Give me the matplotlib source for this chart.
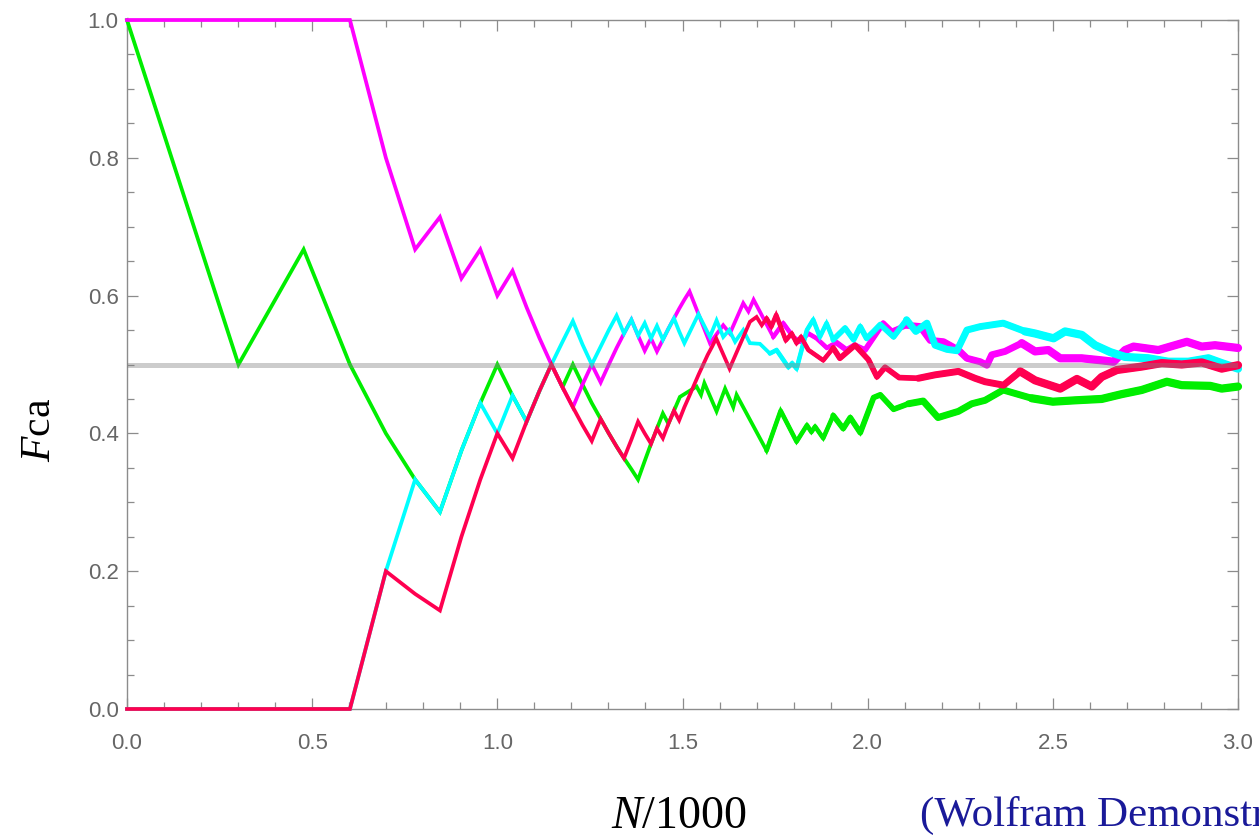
"""
plot.py
Running fraction Fca against log-scaled sample count, four runs.
"""

import matplotlib
matplotlib.use('Agg')
import matplotlib.pyplot as plt
from matplotlib.ticker import MultipleLocator, FormatStrFormatter

plt.rcParams['mathtext.fontset'] = 'custom'
plt.rcParams['mathtext.rm'] = 'Liberation Serif'
plt.rcParams['mathtext.it'] = 'Liberation Serif:italic'

# x positions of the first 30 samples (shared by all four runs)
x_early = [0.0, 0.301, 0.477, 0.602, 0.699, 0.778, 0.845, 0.903, 0.954, 1.0,
           1.041, 1.079, 1.114, 1.146, 1.176, 1.204, 1.230, 1.255, 1.279, 1.301,
           1.322, 1.342, 1.362, 1.380, 1.398, 1.415, 1.431, 1.447, 1.462, 1.477]

# green run
green_early = [1.0, .5, .667, .5, .4, .333, .286, .375, .444, .5,
               .455, .417, .462, .5, .467, .5, .471, .444, .421, .4,
               .381, .364, .348, .333, .36, .385, .407, .429, .414, .433]
green_x_late = [1.493, 1.538, 1.55, 1.559, 1.592, 1.615, 1.637, 1.646, 1.727, 1.765,
                1.808, 1.836, 1.848, 1.858, 1.88, 1.907, 1.934, 1.953, 1.98, 2.016,
                2.034, 2.07, 2.11, 2.15, 2.19, 2.245, 2.281, 2.317, 2.366, 2.398,
                2.443, 2.5, 2.56, 2.632, 2.686, 2.74, 2.808, 2.848, 2.925, 2.956, 3.0]
green_y_late = [.453, .468, .456, .473, .432, .465, .438, .456, .375, .433,
                .388, .412, .402, .41, .393, .426, .407, .423, .401, .452,
                .456, .435, .443, .447, .423, .432, .443, .448, .463, .458,
                .451, .446, .448, .450, .457, .463, .475, .470, .469, .465, .468]

# magenta run
magenta_early = [1.0, 1.0, 1.0, 1.0, .8, .667, .714, .625, .667, .6,
                 .636, .583, .538, .5, .467, .438, .471, .5, .474, .5,
                 .524, .545, .565, .542, .52, .538, .519, .536, .552, .567]
magenta_x_late = [1.491, 1.505, 1.519, 1.574, 1.61, 1.628, 1.664, 1.678, 1.692, 1.745,
                  1.772, 1.799, 1.817, 1.84, 1.862, 1.89, 1.915, 1.943, 1.965, 1.993,
                  2.042, 2.065, 2.105, 2.142, 2.169, 2.205, 2.245, 2.268, 2.304, 2.322,
                  2.335, 2.371, 2.416, 2.452, 2.488, 2.52, 2.578, 2.632, 2.664, 2.695,
                  2.718, 2.785, 2.862, 2.902, 2.938, 3.0]
magenta_y_late = [.581, .594, .606, .531, .557, .545, .589, .577, .594, .54,
                  .56, .54, .533, .545, .538, .524, .532, .521, .528, .521,
                  .56, .548, .557, .555, .535, .533, .521, .509, .504, .499,
                  .514, .519, .531, .519, .521, .509, .509, .506, .504, .521,
                  .526, .521, .533, .526, .528, .524]

# cyan run
cyan_early = [0.0, 0.0, 0.0, 0.0, .2, .333, .286, .375, .444, .4,
              .455, .417, .462, .5, .533, .563, .529, .5, .526, .55,
              .571, .545, .565, .542, .56, .538, .556, .536, .552, .567]
cyan_x_late = [1.491, 1.505, 1.543, 1.574, 1.592, 1.61, 1.626, 1.642, 1.664, 1.682,
               1.709, 1.736, 1.754, 1.786, 1.796, 1.808, 1.836, 1.853, 1.871, 1.889,
               1.907, 1.939, 1.962, 1.98, 1.997, 2.016, 2.034, 2.07, 2.105, 2.13,
               2.16, 2.182, 2.214, 2.241, 2.268, 2.304, 2.366, 2.425, 2.452, 2.502,
               2.533, 2.578, 2.614, 2.655, 2.695, 2.758, 2.812, 2.866, 2.92, 2.956, 3.0]
cyan_y_late = [.548, .531, .573, .54, .564, .54, .55, .533, .55, .531,
               .53, .516, .521, .496, .502, .494, .55, .565, .54, .56,
               .536, .553, .536, .555, .538, .548, .558, .54, .565, .548,
               .56, .528, .522, .52, .55, .555, .56, .548, .545, .538,
               .548, .543, .528, .518, .511, .509, .504, .504, .509, .502, .494]

# red run
red_early = [0.0, 0.0, 0.0, 0.0, .2, .167, .143, .25, .333, .4,
             .364, .417, .462, .5, .467, .438, .412, .389, .421, .4,
             .381, .364, .391, .417, .4, .385, .407, .393, .414, .433]
red_x_late = [1.491, 1.505, 1.519, 1.531, 1.544, 1.556, 1.568, 1.58, 1.591, 1.627,
              1.682, 1.7, 1.714, 1.727, 1.74, 1.753, 1.779, 1.795, 1.808, 1.82,
              1.84, 1.88, 1.907, 1.925, 1.966, 2.002, 2.025, 2.047, 2.085, 2.137,
              2.182, 2.245, 2.29, 2.317, 2.367, 2.412, 2.452, 2.52, 2.565, 2.605,
              2.632, 2.673, 2.74, 2.794, 2.848, 2.902, 2.956, 3.0]
red_y_late = [.419, .438, .455, .47, .486, .5, .514, .526, .538, .494,
              .562, .569, .557, .567, .555, .572, .535, .545, .531, .54,
              .521, .506, .524, .509, .528, .507, .482, .496, .481, .48,
              .485, .49, .48, .475, .47, .49, .477, .465, .479, .468,
              .482, .492, .497, .502, .5, .503, .494, .499]

x_ticks = [0.0, 0.5, 1.0, 1.5, 2.0, 2.5, 3.0]
y_ticks = [0.0, 0.2, 0.4, 0.6, 0.8, 1.0]

# the traces get fuzzier (denser zigzag) further right -> draw them thicker there
width_steps = [(1.72, 3.3), (1.9, 4.1), (2.1, 5.0), (2.4, 5.9)]


def plot_run(ax, xs, ys, color, z):
    ax.plot(xs, ys, color=color, lw=2.7, zorder=z, clip_on=False,
            solid_joinstyle='miter')
    for x_start, lw in width_steps:
        sel = [(x, y) for x, y in zip(xs, ys) if x >= x_start]
        ax.plot([p[0] for p in sel], [p[1] for p in sel], color=color, lw=lw,
                zorder=z, clip_on=False, solid_capstyle='round')


fig = plt.figure(figsize=(12.59, 8.35), dpi=100)
ax = fig.add_axes([127 / 1259, 1 - 709 / 835, 1111 / 1259, 689 / 835])

runs = [
    (green_early, green_x_late, green_y_late, '#00ee00', 3),
    (magenta_early, magenta_x_late, magenta_y_late, '#ff00ff', 4),
    (cyan_early, cyan_x_late, cyan_y_late, '#00ffff', 5),
    (red_early, red_x_late, red_y_late, '#ff0050', 6),
]
for early, xl, yl, color, z in runs:
    plot_run(ax, x_early + xl, early + yl, color, z)

# reference level, drawn over the traces
ax.axhline(0.5, color='#808080', alpha=0.4, lw=3.6, zorder=10)

ax.set_xlim(0, 3)
ax.set_ylim(0, 1)
ax.set_xticks(x_ticks)
ax.set_yticks(y_ticks)
ax.xaxis.set_minor_locator(MultipleLocator(0.1))
ax.yaxis.set_minor_locator(MultipleLocator(0.05))
ax.xaxis.set_major_formatter(FormatStrFormatter('%.1f'))
ax.yaxis.set_major_formatter(FormatStrFormatter('%.1f'))

frame_gray = '#8c8c8c'
for sp in ax.spines.values():
    sp.set_color(frame_gray)
    sp.set_linewidth(1.0)
ax.tick_params(which='both', direction='in', top=True, right=True,
               color=frame_gray, width=0.9)
ax.tick_params(which='major', length=8)
ax.tick_params(which='minor', length=5)
ax.tick_params(axis='x', pad=17)
ax.tick_params(axis='y', pad=6)
for lab in ax.get_xticklabels() + ax.get_yticklabels():
    lab.set_fontfamily('Liberation Sans')
    lab.set_fontsize(16)
    lab.set_color('#666666')

fig.text(38 / 1259, 1 - 430 / 835, r'$F\mathrm{ca}$', rotation=90,
         ha='center', va='center', fontsize=30)
fig.text(679 / 1259, 1 - 815 / 835, r'$N\mathrm{/1000}$',
         ha='center', va='center', fontsize=33)
# the credit line runs past the right edge, as in the source image
fig.text(920 / 1259, 1 - 815 / 835, '(Wolfram Demonstrations Project)',
         ha='left', va='center', fontsize=31, color='#1a1a99',
         family='Liberation Serif')

fig.savefig('out.png', dpi=100)
